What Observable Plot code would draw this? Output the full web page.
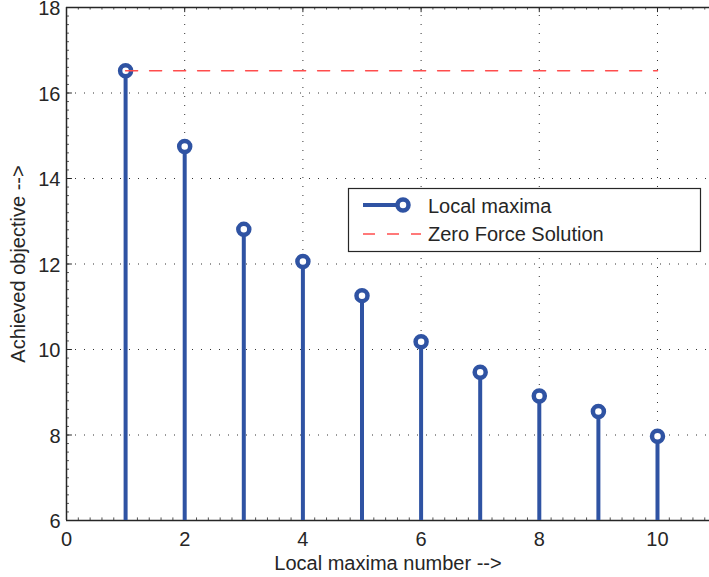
<!DOCTYPE html>
<html>
<head>
<meta charset="utf-8">
<script src="https://cdn.jsdelivr.net/npm/d3@7"></script>
<script src="https://cdn.jsdelivr.net/npm/@observablehq/plot@0.6"></script>
<style>
  html, body { margin: 0; padding: 0; background: #fff; }
  #chart { position: relative; width: 709px; height: 577px; }
  svg { font-family: "Liberation Sans", Arial, sans-serif; overflow: visible; }
</style>
</head>
<body>
<div id="chart"></div>
<script>
const maximaNumber = [1, 2, 3, 4, 5, 6, 7, 8, 9, 10];
const achievedObjective = [16.52, 14.75, 12.81, 12.06, 11.26, 10.18, 9.47, 8.91, 8.55, 7.97];
const zeroForceX = [1, 10];
const zeroForceY = [16.52, 16.52];
const xTicks = [0, 2, 4, 6, 8, 10];
const yTicks = [6, 8, 10, 12, 14, 16, 18];
const xGrid = [2, 4, 6, 8, 10];
const yGrid = [8, 10, 12, 14, 16];
const xMinor = d3.range(0, 10.9, 0.2);
const yMinor = d3.range(6, 18.01, 0.2);

const blue = "#2f53a3";
const red = "#ff4d4d";
const axisColor = "#262626";
const FS = 20;

const maxima = maximaNumber.map((n, i) => ({n, v: achievedObjective[i]}));
const zero = zeroForceX.map((x, i) => ({x, y: zeroForceY[i]}));

const plot = Plot.plot({
  width: 709,
  height: 577,
  marginLeft: 66,
  marginTop: 7,
  marginBottom: 57,
  marginRight: 0,
  style: {fontFamily: "Liberation Sans, Arial, sans-serif", fontSize: FS + "px", color: axisColor, background: "#fff", overflow: "visible"},
  x: {type: "linear", domain: [0, 10.88]},
  y: {type: "linear", domain: [6, 18]},
  marks: [
    Plot.ruleX(xGrid, {x: d => d, y1: 6, y2: 18, stroke: "#333", strokeDasharray: "1,8", strokeWidth: 1}),
    Plot.ruleY(yGrid, {y: d => d, x1: 0, x2: 10.88, stroke: "#333", strokeDasharray: "1,8", strokeWidth: 1}),
    Plot.ruleX(xMinor, {x: d => d, y1: 6, y2: 6.06, stroke: axisColor, strokeWidth: 0.8}),
    Plot.ruleX(xMinor, {x: d => d, y1: 17.94, y2: 18, stroke: axisColor, strokeWidth: 0.8}),
    Plot.ruleX(xTicks, {x: d => d, y1: 6, y2: 6.12, stroke: axisColor, strokeWidth: 1}),
    Plot.ruleX(xTicks, {x: d => d, y1: 17.88, y2: 18, stroke: axisColor, strokeWidth: 1}),
    Plot.ruleY(yMinor, {y: d => d, x1: 0, x2: 0.05, stroke: axisColor, strokeWidth: 0.8}),
    Plot.ruleY(yTicks, {y: d => d, x1: 0, x2: 0.1, stroke: axisColor, strokeWidth: 1}),
    Plot.ruleY([6, 18], {y: d => d, x1: 0, x2: 10.88, stroke: axisColor, strokeWidth: 1.5}),
    Plot.ruleX([0], {x: d => d, y1: 6, y2: 18, stroke: axisColor, strokeWidth: 1.5}),
    Plot.ruleX(maxima, {x: "n", y1: 6, y2: "v", stroke: blue, strokeWidth: 4}),
    Plot.dot(maxima, {x: "n", y: "v", r: 5.5, stroke: blue, strokeWidth: 4.5, fill: "#fff"}),
    Plot.line(zero, {x: "x", y: "y", stroke: red, strokeWidth: 1.5, strokeDasharray: "12,12"}),
    Plot.axisX({ticks: xTicks, tickSize: 0, tickPadding: 11, fontSize: FS, label: "Local maxima number -->", labelAnchor: "center", labelArrow: "none", labelOffset: 49}),
    Plot.axisY({ticks: yTicks, tickSize: 0, tickPadding: 6, fontSize: FS, dy: 1.5, label: "Achieved objective -->", labelAnchor: "center", labelArrow: "none", labelOffset: 56})
  ]
});

document.getElementById("chart").appendChild(plot);

// Legend box drawn into the plot svg
const svg = d3.select(plot);
const lg = svg.append("g").attr("font-family", "Liberation Sans, Arial, sans-serif").attr("font-size", FS)
  .attr("fill", axisColor).attr("text-anchor", "start");
lg.append("rect").attr("x", 348.5).attr("y", 188.5).attr("width", 352).attr("height", 63)
  .attr("fill", "#fff").attr("stroke", axisColor).attr("stroke-width", 1.2);
lg.append("line").attr("x1", 363).attr("x2", 403).attr("y1", 205).attr("y2", 205)
  .attr("stroke", blue).attr("stroke-width", 4);
lg.append("circle").attr("cx", 403).attr("cy", 205).attr("r", 5.5)
  .attr("stroke", blue).attr("stroke-width", 4.5).attr("fill", "#fff");
lg.append("text").attr("x", 428).attr("y", 206).attr("dy", "0.35em").attr("text-anchor", "start").text("Local maxima");
lg.append("line").attr("x1", 363).attr("x2", 421).attr("y1", 234).attr("y2", 234)
  .attr("stroke", red).attr("stroke-width", 1.5).attr("stroke-dasharray", "12,12");
lg.append("text").attr("x", 428).attr("y", 234).attr("dy", "0.35em").attr("text-anchor", "start").text("Zero Force Solution");
</script>
</body>
</html>
